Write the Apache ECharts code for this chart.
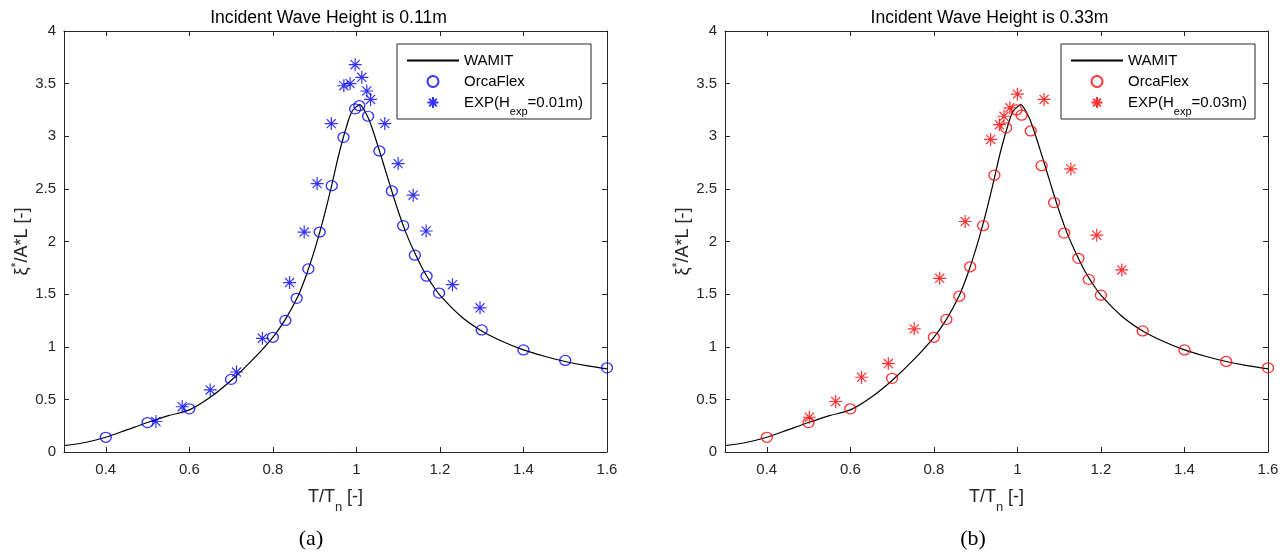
<!DOCTYPE html>
<html><head><meta charset="utf-8">
<script src="https://cdn.jsdelivr.net/npm/echarts@6/dist/echarts.min.js"></script>
<style>html,body{margin:0;padding:0;background:#fff}#c{width:1288px;height:552px}</style>
</head><body><div id="c"></div>
<script>
// ---------- data ----------
const titles = ['Incident Wave Height is 0.11m', 'Incident Wave Height is 0.33m'];
const panelLabels = ['(a)', '(b)'];
const expHeights = ['0.01m', '0.03m'];
const xTicks = [0.4, 0.6, 0.8, 1.0, 1.2, 1.4, 1.6];
const yTicks = [0, 0.5, 1, 1.5, 2, 2.5, 3, 3.5, 4];

const wamitX = [0.30,0.35,0.40,0.45,0.50,0.55,0.60,0.65,0.70,0.75,0.80,0.83,0.86,0.88,0.90,0.92,0.94,0.96,0.98,0.99,1.00,1.008,1.02,1.03,1.04,1.06,1.08,1.10,1.12,1.14,1.16,1.18,1.20,1.25,1.30,1.35,1.40,1.45,1.50,1.55,1.60];
const wamitY = [0.06,0.09,0.14,0.21,0.28,0.345,0.40,0.52,0.68,0.87,1.09,1.26,1.48,1.68,1.92,2.20,2.52,2.86,3.14,3.24,3.28,3.30,3.24,3.16,3.05,2.80,2.54,2.29,2.07,1.89,1.73,1.60,1.49,1.29,1.15,1.05,0.97,0.91,0.86,0.82,0.79];

const orcaLeftX = [0.40,0.50,0.60,0.70,0.80,0.83,0.857,0.885,0.912,0.941,0.969,0.997,1.007,1.028,1.055,1.085,1.112,1.14,1.168,1.198,1.30,1.40,1.50,1.60];
const orcaLeftY = [0.14,0.28,0.41,0.69,1.09,1.25,1.46,1.74,2.09,2.53,2.99,3.26,3.29,3.19,2.86,2.48,2.15,1.87,1.67,1.51,1.16,0.97,0.87,0.80];

const expLeftX = [0.52,0.583,0.65,0.713,0.775,0.84,0.875,0.906,0.94,0.97,0.985,0.997,1.013,1.025,1.034,1.068,1.10,1.136,1.167,1.23,1.296];
const expLeftY = [0.29,0.43,0.59,0.76,1.08,1.61,2.09,2.55,3.12,3.48,3.50,3.68,3.56,3.43,3.35,3.12,2.74,2.44,2.10,1.59,1.37];

const orcaRightX = [0.40,0.50,0.60,0.70,0.80,0.83,0.861,0.887,0.918,0.945,0.973,0.998,1.01,1.032,1.058,1.088,1.112,1.146,1.171,1.20,1.30,1.40,1.50,1.60];
const orcaRightY = [0.14,0.28,0.41,0.70,1.09,1.26,1.48,1.76,2.15,2.63,3.08,3.25,3.20,3.05,2.72,2.37,2.08,1.84,1.64,1.49,1.15,0.97,0.86,0.80];

const expRightX = [0.502,0.565,0.627,0.691,0.753,0.814,0.875,0.936,0.957,0.968,0.982,1.0,1.064,1.128,1.19,1.25];
const expRightY = [0.33,0.48,0.71,0.84,1.17,1.65,2.19,2.97,3.11,3.19,3.27,3.40,3.35,2.69,2.06,1.73];

// ---------- helpers ----------
const FONT = 'Liberation Sans';
const AX = '#262626';
const zip = (xs, ys) => xs.map((x, i) => [x, ys[i]]);
const STAR = 'path://M5,0L5,10M0,5L10,5M1.5,1.5L8.5,8.5M1.5,8.5L8.5,1.5';

const gridLeft = [64, 725];
const gridW = 543, gridTop = 31, gridH = 421;

const grids = [], xAxes = [], yAxes = [], series = [], legends = [], titleArr = [];
const colors = ['#0000ff', '#ff0000'];

for (let p = 0; p < 2; p++) {
  grids.push({left: gridLeft[p], top: gridTop, width: gridW, height: gridH, containLabel: false});
  const base = {min: 0.3, max: 1.6, type: 'value', gridIndex: p, splitLine: {show: false},
    axisLine: {show: true, onZero: false, lineStyle: {color: AX, width: 1}},
    axisTick: {show: true, inside: true, length: 5, customValues: xTicks, lineStyle: {color: AX}}};
  xAxes.push(Object.assign({}, base, {position: 'bottom',
    axisLabel: {show: true, customValues: xTicks, color: AX, fontFamily: FONT, fontSize: 15, margin: 10},
    name: '{n|T/T}{s|n}{n| [-]}', nameLocation: 'middle', nameGap: 36,
    nameTextStyle: {color: AX, fontFamily: FONT, fontSize: 18,
      rich: {n: {fontSize: 18, fontFamily: FONT, color: AX},
             s: {fontSize: 13, fontFamily: FONT, color: AX, padding: [10, 0, -10, 0]}}}}));
  xAxes.push(Object.assign({}, base, {position: 'top', axisLabel: {show: false}}));
  const ybase = {min: 0, max: 4, type: 'value', gridIndex: p, splitLine: {show: false},
    axisLine: {show: true, onZero: false, lineStyle: {color: AX, width: 1}},
    axisTick: {show: true, inside: true, length: 5, customValues: yTicks, lineStyle: {color: AX}}};
  yAxes.push(Object.assign({}, ybase, {position: 'left',
    axisLabel: {show: true, customValues: yTicks, color: AX, fontFamily: FONT, fontSize: 15, margin: 8},
    name: '{n|ξ}{p|*}{n|/A*L [-]}', nameLocation: 'middle', nameGap: 29, nameRotate: 90,
    nameTextStyle: {color: AX, fontFamily: FONT, fontSize: 18,
      rich: {n: {fontSize: 18, fontFamily: FONT, color: AX},
             p: {fontSize: 13, fontFamily: FONT, color: AX, padding: [-6, 0, 6, 0]}}}}));
  yAxes.push(Object.assign({}, ybase, {position: 'right', axisLabel: {show: false}}));

  const xi = p * 2, yi = p * 2;
  const sfx = p === 0 ? 'a' : 'b';
  series.push({name: 'WAMIT_' + sfx, type: 'line', xAxisIndex: xi, yAxisIndex: yi,
    data: zip(wamitX, wamitY), symbol: 'none', smooth: 0.3,
    lineStyle: {color: '#000', width: 1.2},
    itemStyle: {color: 'rgba(0,0,0,0)', borderWidth: 0, opacity: 0}, z: 2});
  series.push({name: 'OrcaFlex_' + sfx, type: 'scatter', xAxisIndex: xi, yAxisIndex: yi,
    data: zip(p === 0 ? orcaLeftX : orcaRightX, p === 0 ? orcaLeftY : orcaRightY),
    symbol: 'circle', symbolSize: [11, 10],
    itemStyle: {color: 'rgba(0,0,0,0)', borderColor: colors[p], borderWidth: 1.3}, z: 3});
  series.push({name: 'EXP_' + sfx, type: 'scatter', xAxisIndex: xi, yAxisIndex: yi,
    data: zip(p === 0 ? expLeftX : expRightX, p === 0 ? expLeftY : expRightY),
    symbol: STAR, symbolSize: 13,
    itemStyle: {color: colors[p], borderColor: colors[p], borderWidth: 1.2}, z: 4});

  legends.push({orient: 'vertical', left: p === 0 ? 397 : 1061, top: 44,
    data: [{name: 'WAMIT_' + sfx, itemStyle: {opacity: 0}}, 'OrcaFlex_' + sfx, 'EXP_' + sfx],
    itemWidth: 52, itemHeight: 11, itemGap: 6, padding: [9, 8, 2, 9],
    borderColor: AX, borderWidth: 1, backgroundColor: '#fff',
    selectedMode: false,
    formatter: function (name) {
      if (name.indexOf('WAMIT') === 0) return 'WAMIT';
      if (name.indexOf('OrcaFlex') === 0) return 'OrcaFlex';
      return '{n|EXP(H}{s|exp}{n|=' + expHeights[p] + ')}';
    },
    textStyle: {fontFamily: FONT, fontSize: 15, color: '#000',
      rich: {n: {fontFamily: FONT, fontSize: 15, color: '#000'},
             s: {fontFamily: FONT, fontSize: 11, color: '#000', padding: [9, 0, -9, 0]}}}});

  titleArr.push({text: titles[p], left: gridLeft[p] + gridW / 2 - 12, top: 4, textAlign: 'center',
    textStyle: {fontFamily: FONT, fontSize: 17.6, fontWeight: 'normal', color: '#000'}});
  titleArr.push({text: panelLabels[p], left: p === 0 ? 306 : 968, top: 523, textAlign: 'center',
    textStyle: {fontFamily: 'Liberation Serif', fontSize: 22, fontWeight: 'normal', color: '#000'}});
}

const chart = echarts.init(document.getElementById('c'), null, {renderer: 'canvas'});
chart.setOption({
  animation: false,
  backgroundColor: '#fff',
  title: titleArr,
  legend: legends,
  grid: grids,
  xAxis: xAxes,
  yAxis: yAxes,
  series: series
});
</script></body></html>
